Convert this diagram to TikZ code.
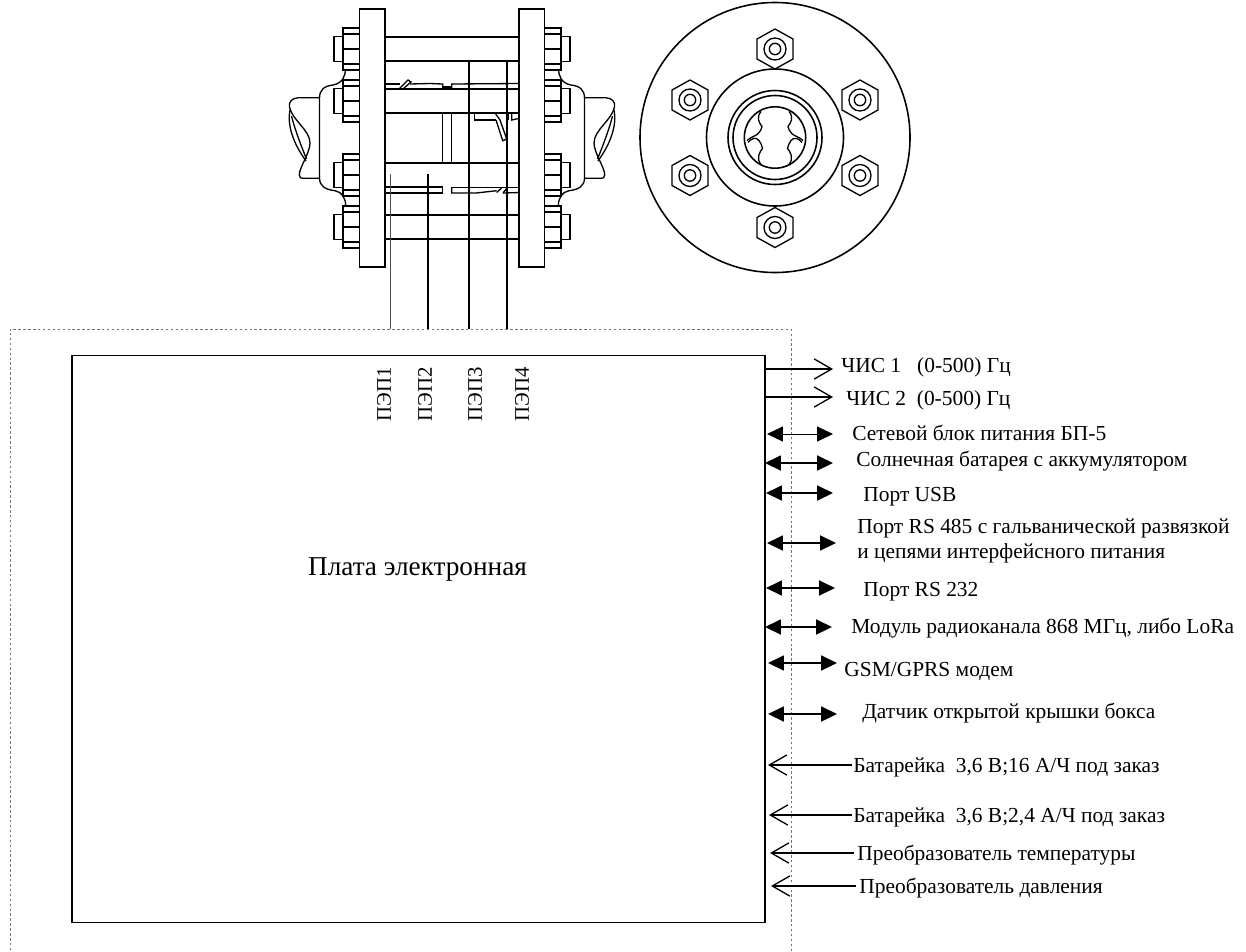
\documentclass[tikz,border=0pt]{standalone}
\usepackage{fontspec}
\setmainfont{Liberation Serif}
\usepackage{tikz}
\usetikzlibrary{arrows.meta, positioning}
\newcommand{\boltside}[1]{
    \draw[part] (359.5,#1-21) -- (343,#1-21) -- (343,#1+21) -- (359.5,#1+21);
    \draw[part] (343,#1-12.5) -- (334,#1-12.5) -- (334,#1+12.5) -- (343,#1+12.5);
    \draw[part] (343,#1-15) -- (359.5,#1-15);
    \draw[part] (343,#1) -- (359.5,#1);
    \draw[part] (343,#1+15) -- (359.5,#1+15);
}
\tikzset{
  part/.style={draw=black,line width=0.75pt},
  wire/.style={draw=black,line width=1.1pt},
  frameline/.style={draw=black!55,line width=0.55pt,dash pattern=on 1.4pt off 1.4pt},
  lbl/.style={anchor=west,inner sep=0pt,font=\fontsize{12.2}{14}\selectfont},
  sensorlbl/.style={rotate=90,inner sep=0pt,font=\fontsize{11.8}{13}\selectfont},
  outarrow/.style={draw=black,line width=0.85pt,-{Straight Barb[length=10pt,width=11.5pt,line width=0.75pt]}},
  botharrow/.style={draw=black,line width=0.85pt,{Triangle[length=9pt,width=8.5pt]}-{Triangle[length=9pt,width=8.5pt]}},
  flangeside/.pic={
    \draw[part] (359.5,9) rectangle (385,267);
    \boltside{49}
    \boltside{101}
    \boltside{175}
    \boltside{227}
    % pipe end
    \draw[part] (345.7,69) .. controls (345,76) and (343,83) .. (333,85) .. controls (324,86) and (319.5,90) .. (319.5,98) -- (319.5,178) .. controls (319.5,186) and (325,189.5) .. (335,190.7) .. controls (342,192) and (345.7,198) .. (345.7,206);
    \draw[part] (319.5,97.7) -- (298.3,97.7) .. controls (292,98) and (288.5,102) .. (289.5,107) .. controls (292,120) and (310,130) .. (310,143) .. controls (310,153) and (299,168) .. (299.3,175) .. controls (299.5,178) and (301,178.3) .. (303,178.3) -- (319.5,178.3);
    \draw[part] (290,110) .. controls (287,125) and (293,143) .. (306,161);
    \draw[part] (291.5,116) .. controls (295,130) and (302,148) .. (306.5,159);
  },
  hexnut/.pic={
    \draw[part] (0,-20) -- (18,-10) -- (18,10) -- (0,20) -- (-18,10) -- (-18,-10) -- cycle;
    \draw[part] (0,0) circle (11);
    \draw[part] (0,0) circle (5.7);
  },
  rotorhalf/.pic={
    \draw[part] (-14,-26) .. controls (-19,-20) and (-16,-15) .. (-13,-11) .. controls (-13,-8) and (-15,-7) .. (-16,-5) .. controls (-17,-2) and (-24,-1) .. (-28,3);
    \draw[part] (-27,5) .. controls (-24,1) and (-19,-1) .. (-16,3) .. controls (-15,6) and (-12,8) .. (-12.5,11) .. controls (-15,14) and (-20,21) .. (-13,28);
  }
}
\begin{document}
\begin{tikzpicture}[x=0.02cm,y=-0.02cm]
      \useasboundingbox (0,0) rectangle (1246,951);
      % side view
      \pic at (0,0) {flangeside};
      \pic[xscale=-1] at (904,0) {flangeside};
      \begin{scope}[every path/.style={part}]
      \draw (385,37) -- (519.5,37);
      \draw (385,61) -- (519.5,61);
      \draw (385,89) -- (519.5,89);
      \draw (385,113) -- (519.5,113);
      \draw (385,163) -- (519.5,163);
      \draw (385,187) -- (442.7,187);
      \draw (385,215) -- (519.5,215);
      \draw (385,239) -- (519.5,239);
      \draw (442.7,113) -- (442.7,163);
      \draw (451.7,113) -- (451.7,163);
      % inner details
      \draw (385,84) -- (400,84);
      \draw (410,84) -- (430,83.5) -- (442.7,84) -- (442.7,89);
      \draw[line width=1pt] (442.7,87.3) -- (451.7,87.3);
      \draw (451.7,89) -- (451.7,84) -- (519.5,83.5);
      \draw (399,89) -- (408,80) -- (411,82) -- (403,89);
      \draw (385,193) -- (442.7,193) -- (442.7,187);
      \draw (451.7,187) -- (451.7,193) -- (476,193) -- (496.7,190.7);
      \draw (451.7,187.5) -- (519.5,187.5);
      \draw (496.7,192.5) -- (501.5,188);
      \draw (503,193) -- (507,188);
      \draw (503,193) -- (519.5,192.5);
      \draw (474.3,113) -- (474.3,120) -- (496,120);
      \draw (495,113) -- (500,120) -- (506.7,139) -- (502.7,140.7) -- (496,120);
      \draw (508.3,114) -- (508.3,120);
      \draw (511.7,114) -- (511.7,120) -- (519.5,118.3);
      \end{scope}
      % end view
      \begin{scope}[every path/.style={part}]
      \draw[line width=0.9pt] (775,137.5) circle (135);
      \draw[line width=0.9pt] (775,137.5) circle (68.5);
      \draw[line width=0.9pt] (775,137.5) circle (47);
      \draw[line width=0.9pt] (775,137.5) circle (42);
      \draw[line width=0.9pt] (775,137.5) circle (30.7);
      \end{scope}
      \pic at (775,49) {hexnut};
      \pic at (775,227.5) {hexnut};
      \pic at (690,100) {hexnut};
      \pic at (860,100) {hexnut};
      \pic at (690,175.5) {hexnut};
      \pic at (860,175.5) {hexnut};
      \pic at (775,137.5) {rotorhalf};
      \pic[xscale=-1] at (775,137.5) {rotorhalf};
      % board
      \draw[frameline] (791,951) -- (791,329) -- (10,329) -- (10,951);
      \node[draw=black,line width=1pt,minimum width=13.87cm,minimum height=11.34cm,inner sep=0pt] (board) at (418.5,639) {};
      \node[font=\fontsize{15.5}{17}\selectfont,inner sep=0pt] (title) at (417.5,569) {Плата электронная};
      % sensors
      \node[sensorlbl] (s1) at (384,394) {ПЭП1};
      \node[sensorlbl] (s2) at (425,394) {ПЭП2};
      \node[sensorlbl] (s3) at (475,394) {ПЭП3};
      \node[sensorlbl] (s4) at (522,394) {ПЭП4};
      \coordinate (w1a) at (390.7,174);
      \coordinate (w1b) at (390.7,329);
      \coordinate (w2a) at (428.3,174);
      \coordinate (w2b) at (428.3,329);
      \coordinate (w3a) at (469,60);
      \coordinate (w3b) at (469,329);
      \coordinate (w4a) at (507.3,60);
      \coordinate (w4b) at (507.3,329);
      \draw[draw=black!70,line width=0.7pt] (w1a) -- (w1b);
      \draw[wire] (w2a) -- (w2b);
      \draw[wire] (w3a) -- (w3b);
      \draw[wire] (w4a) -- (w4b);
      % labels
      \node[lbl] (chs1) at (841,367) {ЧИС 1 \ \ (0-500) Гц};
      \node[lbl] (chs2) at (846,400) {ЧИС 2 \ (0-500) Гц};
      \node[lbl] (bp5) at (852,433) {Сетевой блок питания БП-5};
      \node[lbl] (solar) at (856,461) {Солнечная батарея с аккумулятором};
      \node[lbl] (usb) at (863,497) {Порт USB};
      \node[lbl,align=left] (rs485) at (857,541) {Порт RS 485 с гальванической развязкой\\и цепями интерфейсного питания};
      \node[lbl] (rs232) at (863,592) {Порт RS 232};
      \node[lbl] (radio) at (851,628) {Модуль радиоканала 868 МГц, либо LoRa};
      \node[lbl] (gsm) at (844,671) {GSM/GPRS модем};
      \node[lbl] (lid) at (862,713) {Датчик открытой крышки бокса};
      \node[lbl] (bat1) at (853,767) {Батарейка \ 3,6 В;16 А/Ч под заказ};
      \node[lbl] (bat2) at (853,817) {Батарейка \ 3,6 В;2,4 А/Ч под заказ};
      \node[lbl] (temp) at (857,855) {Преобразователь температуры};
      \node[lbl] (press) at (859,888) {Преобразователь давления};
      % arrows
      \coordinate (chs1a) at (765,369);
      \coordinate (chs1b) at (833,369);
      \coordinate (chs2a) at (765,397);
      \coordinate (chs2b) at (833,397);
      \draw[outarrow] (chs1a) -- (chs1b);
      \draw[outarrow] (chs2a) -- (chs2b);
      \coordinate (bp5a) at (767,434);
      \coordinate (bp5b) at (833,434);
      \coordinate (solara) at (765,463);
      \coordinate (solarb) at (833,463);
      \coordinate (usba) at (766,493);
      \coordinate (usbb) at (833,493);
      \coordinate (rs485a) at (767,543);
      \coordinate (rs485b) at (836,543);
      \coordinate (rs232a) at (766,588);
      \coordinate (rs232b) at (835,588);
      \coordinate (radioa) at (765,627);
      \coordinate (radiob) at (832,627);
      \coordinate (gsma) at (768,663);
      \coordinate (gsmb) at (837,663);
      \coordinate (lida) at (768,714);
      \coordinate (lidb) at (837,714);
      \draw[botharrow,line width=0.4pt] (bp5a) -- (bp5b);
      \draw[botharrow] (solara) -- (solarb);
      \draw[botharrow] (usba) -- (usbb);
      \draw[botharrow] (rs485a) -- (rs485b);
      \draw[botharrow] (rs232a) -- (rs232b);
      \draw[botharrow] (radioa) -- (radiob);
      \draw[botharrow] (gsma) -- (gsmb);
      \draw[botharrow] (lida) -- (lidb);
      \coordinate (bat1e) at (768,765);
      \coordinate (bat2e) at (769,815);
      \coordinate (tempe) at (770,853);
      \coordinate (presse) at (771,886);
      \coordinate (bat1s) at (852,765);
      \coordinate (bat2s) at (852,815);
      \coordinate (temps) at (854,853);
      \coordinate (presss) at (856,886);
      \draw[outarrow] (bat1s) -- (bat1e);
      \draw[outarrow] (bat2s) -- (bat2e);
      \draw[outarrow] (temps) -- (tempe);
      \draw[outarrow] (presss) -- (presse);
\end{tikzpicture}
\end{document}
